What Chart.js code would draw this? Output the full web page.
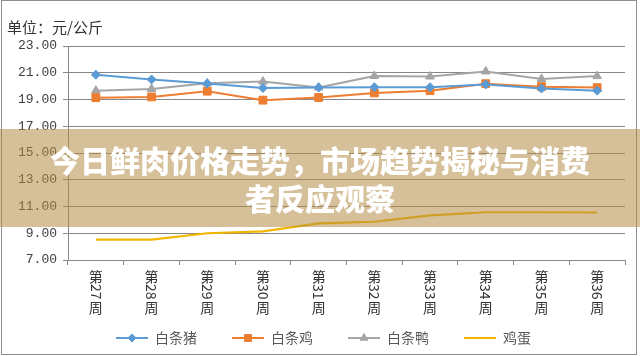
<!DOCTYPE html>
<html><head><meta charset="utf-8">
<script src="https://cdn.jsdelivr.net/npm/chart.js@4"></script>
<style>
html,body{margin:0;padding:0;background:#fff;}
#wrap{position:relative;width:640px;height:356px;overflow:hidden;background:#fff;}
#c{position:absolute;left:0;top:0;}
#frame{position:absolute;left:1px;top:0;width:636px;height:355px;box-sizing:border-box;border:1px solid #8f8f8f;pointer-events:none;}
#banner{position:absolute;left:0;top:129px;width:640px;height:98px;background:rgba(180,140,70,0.55);}
#bannerText{width:560px;margin:0 auto;padding-top:11px;color:#fff;font-family:"Noto Sans CJK SC";font-weight:900;font-size:30px;line-height:38px;text-align:center;}
</style></head>
<body>
<div id="wrap">
<canvas id="c" width="640" height="356"></canvas>
<div id="frame"></div>
<div id="banner"><div id="bannerText"></div></div>
</div>
<script>
const categories = ['第27周','第28周','第29周','第30周','第31周','第32周','第33周','第34周','第35周','第36周'];
const porkPrices    = [20.85, 20.50, 20.20, 19.86, 19.90, 19.92, 19.92, 20.13, 19.82, 19.66];
const chickenPrices = [19.14, 19.19, 19.62, 18.95, 19.15, 19.49, 19.66, 20.18, 19.96, 19.89];
const duckPrices    = [19.66, 19.79, 20.21, 20.34, 19.90, 20.76, 20.72, 21.10, 20.53, 20.75];
const eggPrices     = [8.52, 8.52, 9.00, 9.14, 9.74, 9.86, 10.33, 10.57, 10.57, 10.55];
const seriesNames = ['白条猪','白条鸡','白条鸭','鸡蛋'];
const unitLabel = '单位：元/公斤';
const headline = '今日鲜肉价格走势，市场趋势揭秘与消费者反应观察';

document.getElementById('bannerText').textContent = headline;

const colors = ['#5b9bd5','#ed7d31','#a5a5a5','#f2b600'];
const styles = ['rectRot','rect','triangle',false];
const radii = [4.5,5.5,5,0];

function legendIcon(color, style, radius){
  const cv = document.createElement('canvas'); cv.width = 47; cv.height = 12;
  const g = cv.getContext('2d');
  g.strokeStyle = color; g.lineWidth = 2;
  g.beginPath(); g.moveTo(15,6); g.lineTo(47,6); g.stroke();
  if (style) {
    g.fillStyle = color; g.strokeStyle = color; g.lineWidth = 1;
    Chart.helpers.drawPoint(g, {pointStyle: style, radius: radius*0.9, rotation: 0, borderWidth: 1}, 31, 6);
  }
  return cv;
}
const icons = colors.map((c,i)=>legendIcon(c, styles[i], radii[i]));

const xLabelPlugin = {
  id: 'verticalLabels',
  afterDraw(chart){
    const xs = chart.scales.x, ctx = chart.ctx;
    ctx.save();
    ctx.fillStyle = '#333';
    ctx.font = '14px "Noto Sans CJK SC"';
    ctx.textAlign = 'center'; ctx.textBaseline = 'middle';
    xs.ticks.forEach((t,i)=>{
      const label = xs.getLabelForValue(t.value);
      const x = xs.getPixelForTick(i);
      const m = label.match(/^(\D*)(\d*)(\D*)$/) || [label,label,'',''];
      let y = xs.top + 10;
      for (const ch of m[1]) { ctx.fillText(ch, x, y + 7); y += 14; }
      if (m[2]) {
        const w = ctx.measureText(m[2]).width;
        ctx.save(); ctx.translate(x, y + w/2); ctx.rotate(Math.PI/2);
        ctx.fillText(m[2], 0, 0); ctx.restore();
        y += w + 1;
      }
      for (const ch of m[3]) { ctx.fillText(ch, x, y + 7); y += 14; }
    });
    ctx.restore();
  }
};

const seriesData = [porkPrices, chickenPrices, duckPrices, eggPrices];
const gridColor = '#878787';

new Chart(document.getElementById('c'), {
  type: 'line',
  data: {
    labels: categories,
    datasets: seriesData.map((d,i)=>({
      label: seriesNames[i],
      data: d,
      borderColor: colors[i],
      backgroundColor: colors[i],
      pointBackgroundColor: colors[i],
      pointBorderColor: colors[i],
      pointStyle: styles[i] || 'circle',
      pointRadius: radii[i],
      pointBorderWidth: 1,
      borderWidth: i === 3 ? 2.2 : 2,
      tension: 0,
      fill: false
    }))
  },
  options: {
    responsive: false,
    devicePixelRatio: 1,
    animation: false,
    layout: { padding: { left: 7, right: 15, top: 0, bottom: 1 } },
    plugins: {
      tooltip: { enabled: false },
      title: {
        display: true, text: unitLabel, align: 'start', color: '#333',
        font: { family: 'Noto Sans CJK SC', size: 15, weight: 'normal', lineHeight: 1.2 },
        padding: { top: 18, bottom: 10 }
      },
      legend: {
        position: 'bottom',
        labels: {
          usePointStyle: true, pointStyleWidth: 47, padding: 20, color: '#595959',
          font: { family: 'Noto Sans CJK SC', size: 14 },
          generateLabels(chart){
            const items = Chart.defaults.plugins.legend.labels.generateLabels(chart);
            items.forEach((it,i)=>{ it.pointStyle = icons[i]; it.fontColor = '#595959'; });
            return items;
          }
        }
      }
    },
    scales: {
      x: {
        offset: true,
        grid: { offset: true, drawOnChartArea: false, drawTicks: true, tickLength: 5, color: gridColor },
        border: { display: true, color: gridColor },
        ticks: { display: false },
        afterFit(s){ s.height = 51; }
      },
      y: {
        min: 7, max: 23,
        grid: { color: gridColor, drawTicks: true, tickLength: 5 },
        border: { display: true, color: gridColor },
        ticks: {
          stepSize: 2, padding: 6, color: '#404040',
          font: { family: 'Liberation Mono', size: 13 },
          callback: v => Number(v).toFixed(2)
        },
        afterFit(s){ s.width = 61; }
      }
    }
  },
  plugins: [xLabelPlugin]
});
</script>
</body></html>
